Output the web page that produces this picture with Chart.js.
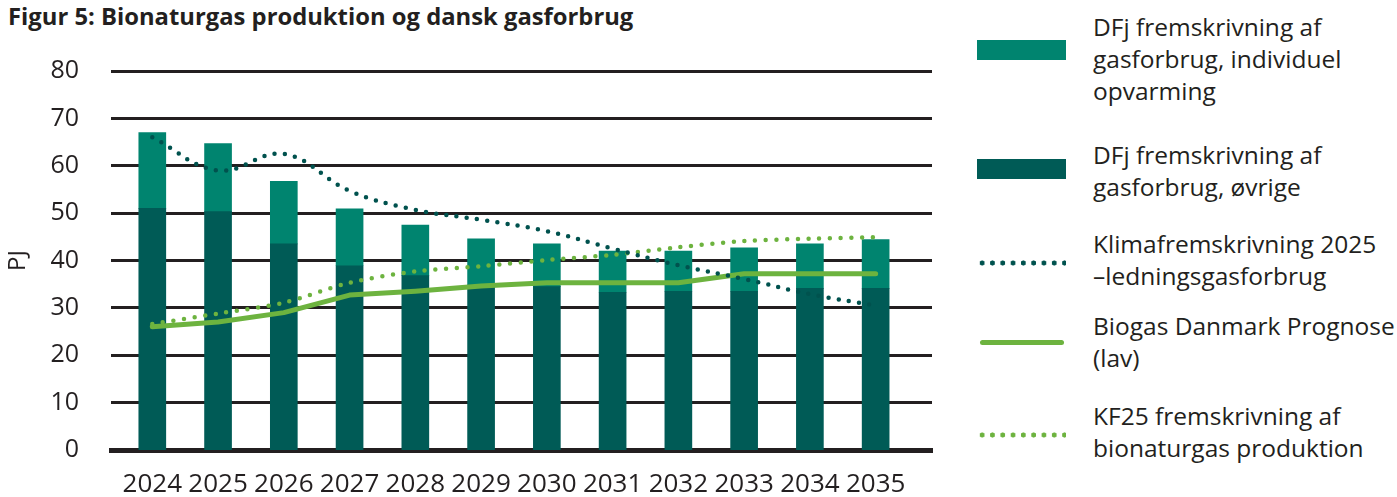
<!DOCTYPE html>
<html lang="da">
<head>
    <meta charset="UTF-8">
    <title>Bionaturgas produktion og dansk gasforbrug</title>
    <script src="https://cdn.jsdelivr.net/npm/chart.js"></script>
    <style>
        body { margin: 0; background: #fff; font-family: "Open Sans", sans-serif; color: #231f20; }
        #wrap { position: relative; width: 1397px; height: 497px; overflow: hidden; }
        #title { position: absolute; left: 8px; top: 0px; font-size: 23.8px; font-weight: bold; white-space: nowrap; }
        #box { position: absolute; left: 0; top: 0; width: 940px; height: 497px; }
        .item { position: absolute; left: 977px; }
        .sw { position: absolute; left: 0; width: 89px; }
        .txt { position: absolute; left: 116px; font-size: 24.5px; line-height: 32px; white-space: pre; }
    </style>
</head>
<body>
<div id="wrap">
    <div id="title">Figur 5: Bionaturgas produktion og dansk gasforbrug</div>
    <div id="box"><canvas id="chart"></canvas></div>
    <div id="legend"></div>
</div>
<script>
    // (PJ)
    const years = [2024, 2025, 2026, 2027, 2028, 2029, 2030, 2031, 2032, 2033, 2034, 2035];
    const ovrige = [51.0, 50.3, 43.5, 38.9, 36.8, 34.8, 34.5, 33.3, 33.5, 33.5, 34.1, 34.1];
    const individuel = [16.0, 14.4, 13.2, 12.0, 10.7, 9.8, 9.0, 8.7, 8.5, 9.2, 9.4, 10.3];
    const klima = [66.0, 59.0, 62.5, 54.7, 50.7, 48.6, 46.2, 42.5, 39.0, 36.1, 32.9, 30.5];
    const biogas = [26.0, 27.0, 29.0, 32.7, 33.5, 34.6, 35.3, 35.3, 35.3, 37.2, 37.2, 37.2];
    const kf25 = [26.6, 28.8, 31.1, 35.3, 37.7, 38.8, 40.1, 41.2, 42.8, 44.1, 44.6, 44.9];
    const yTicks = [0, 10, 20, 30, 40, 50, 60, 70, 80];

    const names = [
        "DFj fremskrivning af\ngasforbrug, individuel\nopvarming",
        "DFj fremskrivning af\ngasforbrug, øvrige",
        "Klimafremskrivning 2025\n\u2013ledningsgasforbrug",
        "Biogas Danmark Prognose\n(lav)",
        "KF25 fremskrivning af\nbionaturgas produktion"
    ];

    const cLight = "#00846f";
    const cDark = "#005b56";
    const cKlima = "#00524e";
    const cGreen = "#6db33f";
    const ink = "#231f20";

    function pts(arr) { return years.map((y, i) => ({ x: y, y: arr[i] })); }

    let ctx = document.getElementById("chart").getContext("2d");
    let chart = new Chart(ctx, {
        type: "bar",
        data: {
            datasets: [
                { label: names[1], data: pts(ovrige), backgroundColor: cDark, barThickness: 27, order: 2 },
                { label: names[0], data: pts(individuel), backgroundColor: cLight, barThickness: 27, order: 2 },
                { type: "line", label: names[2], data: pts(klima), stack: "l1", order: 0,
                  borderColor: cKlima, borderWidth: 4.5, borderDash: [0, 10.3], borderCapStyle: "round",
                  tension: 0.4, pointRadius: 0, fill: false },
                { type: "line", label: names[3], data: pts(biogas), stack: "l2", order: 1,
                  borderColor: cGreen, borderWidth: 5, borderCapStyle: "round", borderJoinStyle: "round",
                  tension: 0, pointRadius: 0, fill: false },
                { type: "line", label: names[4], data: pts(kf25), stack: "l3", order: 0,
                  borderColor: cGreen, borderWidth: 4.5, borderDash: [0, 10.7], borderCapStyle: "round",
                  tension: 0.3, pointRadius: 0, fill: false }
            ]
        },
        options: {
            responsive: true,
            maintainAspectRatio: false,
            animation: false,
            layout: { padding: { left: 0, top: 71, right: 8, bottom: 0 } },
            plugins: { legend: { display: false }, tooltip: { enabled: false } },
            scales: {
                x: {
                    type: "linear",
                    stacked: true,
                    offset: false,
                    min: 2023.372,
                    max: 2035.857,
                    afterBuildTicks: axis => { axis.ticks = years.map(v => ({ value: v })); },
                    afterFit: s => { s.height = 42; },
                    grid: { display: false, drawTicks: false },
                    border: { display: true, width: 5, color: ink },
                    ticks: { color: ink, padding: 19, font: { family: "Open Sans", size: 26 }, callback: v => String(v), maxRotation: 0, autoSkip: false }
                },
                y: {
                    stacked: true,
                    min: 0,
                    max: 80,
                    afterBuildTicks: axis => { axis.ticks = yTicks.map(v => ({ value: v })); },
                    afterFit: s => { s.width = 111; },
                    border: { display: false },
                    grid: { color: ink, lineWidth: c => (c.tick && c.tick.value === 0 ? 0 : 3), drawTicks: false },
                    ticks: { color: ink, padding: 32, font: { family: "Open Sans", size: 25 } },
                    title: { display: true, text: "PJ", color: ink, padding: { top: 4, bottom: 0 }, font: { family: "Open Sans", size: 24 } }
                }
            }
        }
    });

    // legend i html, så teksten kan brydes som i originalen
    const legendItems = [
        { kind: "box", color: cLight, text: names[0], top: 11, mid: 50 },
        { kind: "box", color: cDark, text: names[1], top: 139, mid: 169 },
        { kind: "dots", color: cKlima, text: names[2], top: 228, mid: 263 },
        { kind: "solid", color: cGreen, text: names[3], top: 310, mid: 343 },
        { kind: "dots", color: cGreen, text: names[4], top: 400, mid: 435 }
    ];
    let lg = document.getElementById("legend");
    legendItems.forEach(it => {
        let d = document.createElement("div");
        d.className = "item";
        d.style.top = "0px";
        let sw = document.createElement("div");
        sw.className = "sw";
        if (it.kind === "box") {
            sw.style.top = (it.mid - 10) + "px"; sw.style.height = "20px"; sw.style.background = it.color;
        } else if (it.kind === "solid") {
            sw.style.top = (it.mid - 3) + "px"; sw.style.left = "3px"; sw.style.width = "84px"; sw.style.height = "5px";
            sw.style.borderRadius = "3px"; sw.style.background = it.color;
        } else {
            sw.style.top = (it.mid - 3) + "px"; sw.style.height = "6px"; sw.style.left = "0px";
            sw.style.background = "radial-gradient(circle, " + it.color + " 2.3px, transparent 2.8px) 0 0 / 10.3px 6px repeat-x";
        }
        let t = document.createElement("div");
        t.className = "txt";
        t.style.top = it.top + "px";
        t.textContent = it.text;
        d.appendChild(sw);
        d.appendChild(t);
        lg.appendChild(d);
    });
</script>
</body>
</html>
